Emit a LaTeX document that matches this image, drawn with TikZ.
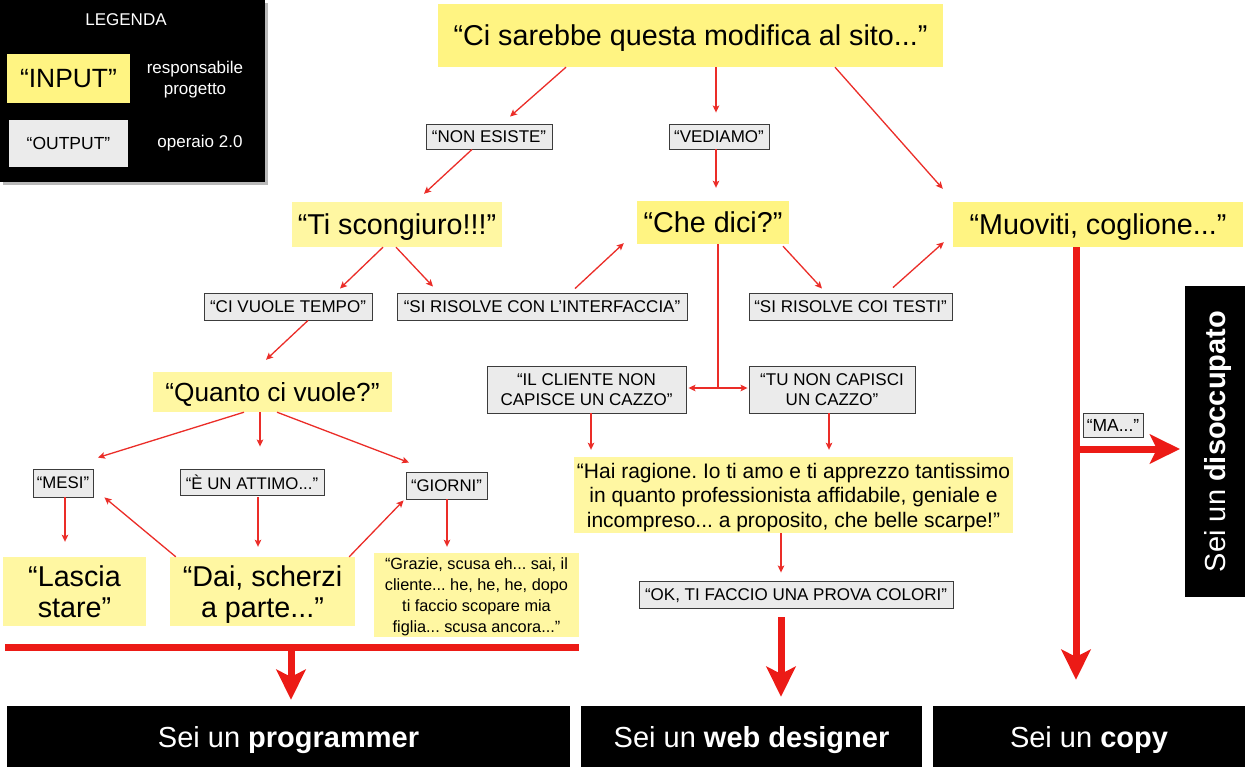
\documentclass[tikz,border=0pt]{standalone}
\usepackage{fontspec}
\setmainfont{Liberation Sans}
\usetikzlibrary{arrows.meta,calc}
\definecolor{yelA}{RGB}{255,244,130}
\definecolor{yelB}{RGB}{255,247,162}
\definecolor{greyfill}{RGB}{235,235,235}
\definecolor{greyline}{RGB}{60,60,60}
\definecolor{redthin}{RGB}{235,45,40}
\definecolor{redthick}{RGB}{236,27,22}
\newcommand{\myfs}[2]{\fontsize{#1}{#2}\selectfont}
\frenchspacing
\tikzset{
  sz/.style 2 args={minimum width=#1pt, minimum height=#2pt},
  ybox/.style={fill=yelB, inner sep=0pt, align=center, text=black, text depth=0pt},
  yboxA/.style={fill=yelA, inner sep=0pt, align=center, text=black, text depth=0pt},
  gbox/.style={fill=greyfill, draw=greyline, line width=0.9pt, inner sep=0pt, align=center, text=black, text depth=0pt},
  bbox/.style={fill=black, inner sep=0pt, align=center, text=white, text depth=0pt},
  thinarr/.style={draw=redthin, line width=1.3pt, ->},
  thinline/.style={draw=redthin, line width=1.3pt},
  thickarr/.style={draw=redthick, line width=7pt, -{Stealth[length=30pt,width=29pt,inset=7pt]}},
}
\begin{document}
\begin{tikzpicture}[x=1pt,y=-1pt,>={Stealth[length=7pt,width=6.5pt,inset=1.5pt]}]
\useasboundingbox (0,0) rectangle (1253,773);
\fill[white] (0,0) rectangle (1253,773);
% legend
\fill[gray!55] (3,3) rectangle (268,185);
\fill[black] (0,0) rectangle (265,182);
\node[text=white,font=\myfs{17}{20}] (legtitle) at (126,20) {LEGENDA};
\node[yboxA,sz={123}{49},font=\myfs{26.4}{30}] (inputbox) at (68.5,78.5) {“INPUT”};
\node[text=white,align=center,font=\myfs{17}{21}] (resp) at (195,80) {responsabile\\progetto};
\node[fill=greyfill,inner sep=0pt,text depth=0pt,sz={119}{47},font=\myfs{17.5}{20}] (outputbox) at (68.5,143.5) {“OUTPUT”};
\node[text=white,font=\myfs{17}{20}] (operaio) at (200,143) {operaio 2.0};

% nodes
\node[yboxA,sz={505}{63},font=\myfs{28.7}{34}] (top) at (690.5,35.5) {“Ci sarebbe questa modifica al sito...”};
\node[gbox,sz={126}{25},font=\myfs{17}{20}] (nonesiste) at (489,136.5) {“NON ESISTE”};
\node[gbox,sz={100}{25},font=\myfs{17}{20}] (vediamo) at (719,136.5) {“VEDIAMO”};
\node[ybox,sz={210}{45},font=\myfs{28.7}{34}] (tisc) at (397,224.5) {“Ti scongiuro!!!”};
\node[yboxA,sz={152}{43},font=\myfs{28.7}{34}] (chedici) at (713,222.5) {“Che dici?”};
\node[yboxA,sz={290}{45},font=\myfs{28.7}{34}] (muoviti) at (1098,224.5) {“Muoviti, coglione...”};
\node[gbox,sz={168}{27},font=\myfs{17}{20}] (civuole) at (288,306.5) {“CI VUOLE TEMPO”};
\node[gbox,sz={290}{27},font=\myfs{17}{20}] (interf) at (542,306.5) {“SI RISOLVE CON L’INTERFACCIA”};
\node[gbox,sz={203}{27},font=\myfs{17}{20}] (testi) at (850.5,306.5) {“SI RISOLVE COI TESTI”};
\node[ybox,sz={239}{40},font=\myfs{26.2}{31}] (quanto) at (272.5,392) {“Quanto ci vuole?”};
\node[gbox,sz={199}{47},font=\myfs{17}{20}] (cliente) at (586.5,389.5) {“IL CLIENTE NON\\CAPISCE UN CAZZO”};
\node[gbox,sz={166}{47},font=\myfs{17}{20}] (tunon) at (832,389.5) {“TU NON CAPISCI\\UN CAZZO”};
\node[ybox,sz={439}{76},font=\myfs{21}{24.5}] (hai) at (793.5,495) {“Hai ragione. Io ti amo e ti apprezzo tantissimo\\in quanto professionista affidabile, geniale e\\incompreso... a proposito, che belle scarpe!”};
\node[gbox,sz={314}{27},font=\myfs{17}{20}] (ok) at (796,594.5) {“OK, TI FACCIO UNA PROVA COLORI”};
\node[gbox,sz={60}{28},font=\myfs{16.8}{20}] (mesi) at (63,483) {“MESI”};
\node[gbox,sz={144}{26},font=\myfs{16.8}{20}] (attimo) at (252,482) {“È UN ATTIMO...”};
\node[gbox,sz={81}{27},font=\myfs{16.8}{20}] (giorni) at (446.5,485.5) {“GIORNI”};
\node[ybox,sz={143}{69},font=\myfs{28.7}{31}] (lascia) at (74.5,591.5) {“Lascia\\stare”};
\node[ybox,sz={185}{69},font=\myfs{28.7}{31}] (dai) at (262.5,591.5) {“Dai, scherzi\\a parte...”};
\node[ybox,sz={205}{84},font=\myfs{16.3}{21}] (grazie) at (476.5,595) {“Grazie, scusa eh... sai, il\\cliente... he, he, he, dopo\\ti faccio scopare mia\\figlia... scusa ancora...”};
\node[fill=redthick,inner sep=0pt,sz={574}{7}] (redbar) at (292,647.5) {};
\node[gbox,sz={60}{24},font=\myfs{17.5}{20}] (ma) at (1113,425) {“MA...”};
\node[bbox,sz={311}{60},rotate=90,font=\myfs{29}{34}] (disocc) at (1215,441.5) {Sei un \textbf{disoccupato}};
\node[bbox,sz={563}{61},font=\myfs{29}{34}] (prog) at (288.5,736.5) {Sei un \textbf{programmer}};
\node[bbox,sz={341}{61},font=\myfs{29}{34}] (web) at (751.5,736.5) {Sei un \textbf{web designer}};
\node[bbox,sz={312}{61},font=\myfs{29}{34}] (copy) at (1089,736.5) {Sei un \textbf{copy}};

% thin connectors
\draw[thinarr] ($(top.south)+(-124.5,0)$) -- ($(nonesiste.north)+(21,-7)$);
\draw[thinarr] ($(top.south)+(25.5,0)$) -- ($(vediamo.north)+(-3,-11)$);
\draw[thinarr] ($(top.south)+(144.5,0)$) -- ($(muoviti.north west)+(-10,-13)$);
\draw[thinarr] ($(nonesiste.south)+(-17,0)$) -- ($(tisc.north)+(27,-8)$);
\draw[thinarr] ($(vediamo.south)+(-3,0)$) -- ($(chedici.north)+(3,-13)$);
\draw[thinarr] ($(tisc.south)+(-14,0)$) -- ($(civuole.north)+(52,-4)$);
\draw[thinarr] ($(tisc.south)+(-1,0)$) -- ($(interf.north)+(-109,-6)$);
\draw[thinarr] ($(interf.north)+(33,-4)$) -- ($(chedici.south west)+(-13,-1)$);
\draw[thinarr] ($(chedici.south)+(70,2)$) -- ($(testi.north)+(-28.5,-4)$);
\draw[thinarr] ($(testi.north)+(42.5,-5)$) -- ($(muoviti.south west)+(-9,-5)$);
\draw[thinarr] ($(civuole.south)+(20,0)$) -- ($(quanto.north)+(-6.5,-12)$);
\coordinate (jn) at (718,388);
\draw[thinline] ($(chedici.south)+(5,0)$) -- (jn);
\draw[thinarr] (jn) -- ($(cliente.east)+(2,-1.5)$);
\draw[thinarr] (jn) -- ($(tunon.west)+(-1,-1.5)$);
\draw[thinarr] ($(cliente.south)+(4.5,0)$) -- ($(hai.north)+(-202.5,-7)$);
\draw[thinarr] ($(tunon.south)+(-3,0)$) -- ($(hai.north)+(35.5,-7)$);
\draw[thinarr] ($(hai.south)+(-12.5,0)$) -- ($(ok.north)+(-15,-8)$);
\draw[thinarr] ($(quanto.south)+(-28.5,0)$) -- ($(mesi.north)+(35,-11)$);
\draw[thinarr] ($(quanto.south)+(-12.5,0)$) -- ($(attimo.north)+(8,-22)$);
\draw[thinarr] ($(quanto.south)+(4.5,0)$) -- ($(giorni.north)+(-37.5,-9)$);
\draw[thinarr] ($(mesi.south)+(2,0)$) -- ($(lascia.north)+(-9.5,-15)$);
\draw[thinarr] ($(attimo.south)+(6,2)$) -- ($(dai.north)+(-4.5,-10)$);
\draw[thinarr] ($(giorni.south)+(0.5,0)$) -- ($(grazie.north)+(-29.5,-6)$);
\draw[thinarr] ($(dai.north west)+(6,0)$) -- ($(mesi.south east)+(11,0)$);
\draw[thinarr] ($(dai.north east)+(-6,0)$) -- ($(giorni.south west)+(-2,1)$);

% thick connectors
\draw[thickarr] ($(ok.south)+(-15,9)$) -- ($(web.north)+(29.5,-9)$);
\draw[thickarr] ($(redbar.south)+(-1,0)$) -- ($(prog.north)+(2.5,-6)$);
\coordinate (br) at (1076,449);
\draw[thickarr] ($(muoviti.south)+(-22,0)$) -- ($(copy.north)+(-13,-26)$);
\draw[thickarr] (br) -- ($(disocc.center)+(-35,7.5)$);
\end{tikzpicture}
\end{document}
